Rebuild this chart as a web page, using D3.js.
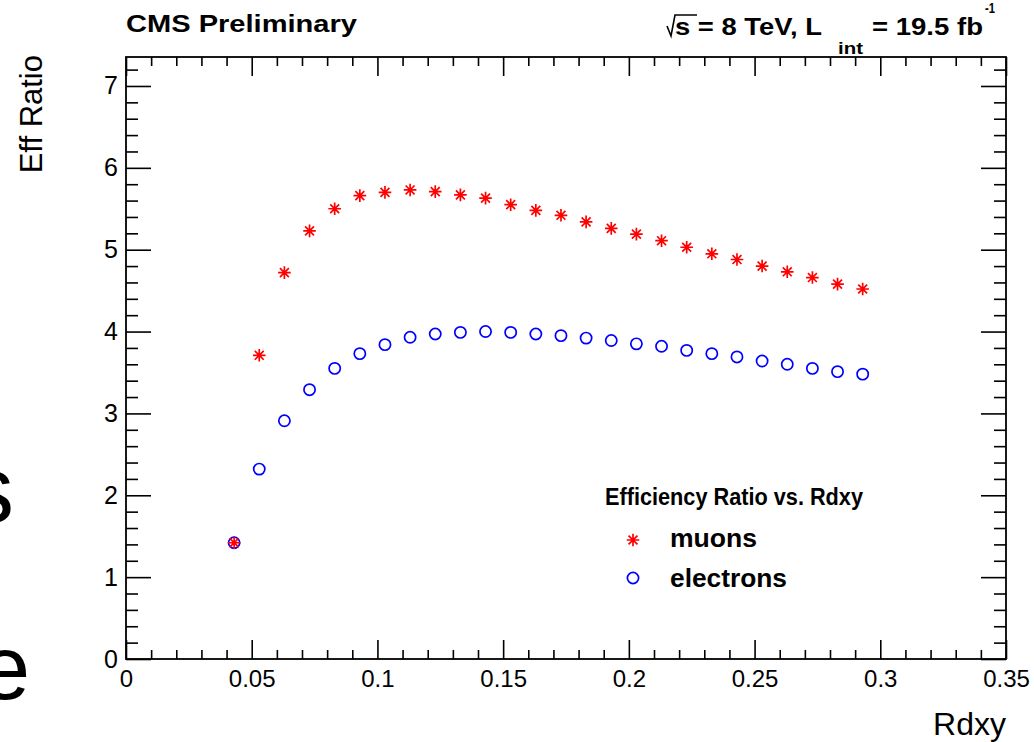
<!DOCTYPE html>
<html><head><meta charset="utf-8">
<script src="https://cdn.jsdelivr.net/npm/d3@7"></script>
<style>
html,body{margin:0;padding:0;background:#fff;}
svg{display:block;font-family:"Liberation Sans",Arial,Helvetica,sans-serif;}
</style></head>
<body><svg id="c" width="1034" height="742"></svg>
<script>
// ---- data ----
const rdxy = [0.043,0.053,0.063,0.073,0.083,0.093,0.103,0.113,0.123,0.133,0.143,0.153,0.163,
              0.173,0.183,0.193,0.203,0.213,0.223,0.233,0.243,0.253,0.263,0.273,0.283,0.293];
const muons = [1.42,3.71,4.72,5.23,5.50,5.66,5.70,5.73,5.71,5.67,5.63,5.55,5.48,
               5.42,5.34,5.26,5.19,5.11,5.03,4.95,4.88,4.80,4.73,4.66,4.58,4.52];
const electrons = [1.42,2.32,2.91,3.29,3.55,3.73,3.84,3.93,3.97,3.99,4.00,3.99,3.97,
                   3.95,3.92,3.89,3.85,3.82,3.77,3.73,3.69,3.64,3.60,3.55,3.51,3.48];
const xTicks = [0,0.05,0.1,0.15,0.2,0.25,0.3,0.35];
const xTickLabels = ["0","0.05","0.1","0.15","0.2","0.25","0.3","0.35"];
const yTicks = [0,1,2,3,4,5,6,7];
const xTitle = "Rdxy", yTitle = "Eff Ratio";
const legendTitle = "Efficiency Ratio vs. Rdxy";
const seriesNames = ["muons","electrons"];

// ---- layout ----
const L=126, R=1006, T=57, B=659;
const svg = d3.select("#c");
const x = d3.scaleLinear().domain([0,0.35]).range([L,R]);
const y = d3.scaleLinear().domain([0,7.354]).range([B,T]);

const xMinor = d3.range(0,0.3501,0.01).filter(v=>Math.abs(v*20-Math.round(v*20))>1e-6);
const yMinor = d3.range(0,7.3501,0.2).filter(v=>Math.abs(v-Math.round(v))>1e-6);

function styleAxis(fs){
  return g=>{
    g.selectAll(".domain").remove();
    g.selectAll("line").attr("stroke","#000").attr("stroke-width",1.6);
    g.selectAll("text").attr("fill","#000").attr("font-size",fs)
     .attr("font-family","'Liberation Sans',Arial,sans-serif");
  };
}
// bottom
svg.append("g").attr("transform",`translate(0,${B})`)
  .call(d3.axisBottom(x).tickValues(xTicks).tickSize(-19).tickPadding(11)
        .tickFormat((d,i)=>xTickLabels[i])).call(styleAxis(24));
svg.append("g").attr("transform",`translate(0,${B})`)
  .call(d3.axisBottom(x).tickValues(xMinor).tickSize(-9).tickFormat("")).call(styleAxis(24));
// top
svg.append("g").attr("transform",`translate(0,${T})`)
  .call(d3.axisTop(x).tickValues(xTicks).tickSize(-19).tickFormat("")).call(styleAxis(24));
svg.append("g").attr("transform",`translate(0,${T})`)
  .call(d3.axisTop(x).tickValues(xMinor).tickSize(-9).tickFormat("")).call(styleAxis(24));
// left
svg.append("g").attr("transform",`translate(${L},0)`)
  .call(d3.axisLeft(y).tickValues(yTicks).tickSize(-25).tickPadding(8).tickFormat(d3.format("d"))).call(styleAxis(25));
svg.append("g").attr("transform",`translate(${L},0)`)
  .call(d3.axisLeft(y).tickValues(yMinor).tickSize(-12).tickFormat("")).call(styleAxis(25));
// right
svg.append("g").attr("transform",`translate(${R},0)`)
  .call(d3.axisRight(y).tickValues(yTicks).tickSize(-25).tickFormat("")).call(styleAxis(25));
svg.append("g").attr("transform",`translate(${R},0)`)
  .call(d3.axisRight(y).tickValues(yMinor).tickSize(-12).tickFormat("")).call(styleAxis(25));

// frame
svg.append("rect").attr("x",L).attr("y",T).attr("width",R-L).attr("height",B-T)
  .attr("fill","none").attr("stroke","#000").attr("stroke-width",1.8);

// markers
const starPath = (s)=>{const d=s*0.7071;return `M${-s},0L${s},0M0,${-s}L0,${s}M${-d},${-d}L${d},${d}M${-d},${d}L${d},${-d}`;};
function drawCircle(g,cx,cy){
  g.append("circle").attr("cx",cx).attr("cy",cy).attr("r",5.6)
   .attr("fill","none").attr("stroke","#0000ff").attr("stroke-width",1.7);
}
function drawStar(g,cx,cy){
  g.append("path").attr("d",starPath(6.3)).attr("transform",`translate(${cx},${cy})`)
   .attr("fill","none").attr("stroke","#ff0000").attr("stroke-width",1.7);
}
const pts = svg.append("g");
electrons.forEach((v,i)=>drawCircle(pts,x(rdxy[i]),y(v)));
muons.forEach((v,i)=>drawStar(pts,x(rdxy[i]),y(v)));

// axis titles
svg.append("text").attr("x",R).attr("y",735).attr("text-anchor","end")
  .attr("font-size",32).text(xTitle);
svg.append("text").attr("transform","translate(42,55) rotate(-90)").attr("text-anchor","end")
  .attr("font-size",31).text(yTitle);

// header texts
svg.append("text").attr("x",126).attr("y",32).attr("font-size",23).attr("font-weight","bold")
  .attr("textLength",231).attr("lengthAdjust","spacingAndGlyphs").text("CMS Preliminary");
svg.append("path").attr("d","M667,26L671,36L675,15L697,15").attr("fill","none")
  .attr("stroke","#000").attr("stroke-width",1.6);
svg.append("text").attr("x",675).attr("y",35).attr("font-size",24).attr("font-weight","bold")
  .attr("textLength",147).attr("lengthAdjust","spacingAndGlyphs").text("s = 8 TeV, L");
svg.append("text").attr("x",838).attr("y",54).attr("font-size",17).attr("font-weight","bold")
  .attr("textLength",25).attr("lengthAdjust","spacingAndGlyphs").text("int");
svg.append("text").attr("x",872).attr("y",35).attr("font-size",24).attr("font-weight","bold")
  .attr("textLength",111).attr("lengthAdjust","spacingAndGlyphs").text("= 19.5 fb");
svg.append("text").attr("x",985).attr("y",13).attr("font-size",15).attr("font-weight","bold")
  .attr("textLength",10).attr("lengthAdjust","spacingAndGlyphs").text("-1");

// legend
svg.append("text").attr("x",605).attr("y",505).attr("font-size",24).attr("font-weight","bold")
  .attr("textLength",258).attr("lengthAdjust","spacingAndGlyphs").text(legendTitle);
const lg = svg.append("g");
drawStar(lg,633,540);
drawCircle(lg,633,578);
svg.append("text").attr("x",670).attr("y",547).attr("font-size",25).attr("font-weight","bold")
  .attr("textLength",87).attr("lengthAdjust","spacingAndGlyphs").text(seriesNames[0]);
svg.append("text").attr("x",670).attr("y",587).attr("font-size",25).attr("font-weight","bold")
  .attr("textLength",117).attr("lengthAdjust","spacingAndGlyphs").text(seriesNames[1]);

// stray clipped letters at left edge
svg.append("text").attr("x",14).attr("y",522).attr("text-anchor","end").attr("font-size",94).text("s");
svg.append("text").attr("x",30).attr("y",699).attr("text-anchor","end").attr("font-size",90).text("e");
</script></body></html>
